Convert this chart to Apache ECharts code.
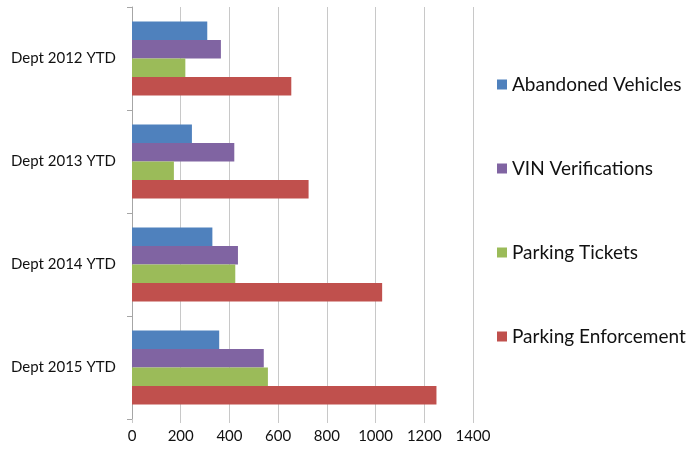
<!DOCTYPE html>
<html>
<head>
<meta charset="utf-8">
<script src="https://cdn.jsdelivr.net/npm/echarts@6/dist/echarts.min.js"></script>
<style>
  html, body { margin: 0; padding: 0; background: #fff; }
  #chart { width: 691px; height: 458px; }
</style>
</head>
<body>
<div id="chart"></div>
<script>
// categories, top to bottom
const categories = ['Dept 2012 YTD', 'Dept 2013 YTD', 'Dept 2014 YTD', 'Dept 2015 YTD'];
const seriesNames = ['Abandoned Vehicles', 'VIN Verifications', 'Parking Tickets', 'Parking Enforcement'];
const abandonedVehicles = [309, 246, 330, 358];
const vinVerifications = [365, 420, 435, 541];
const parkingTickets = [219, 172, 424, 558];
const parkingEnforcement = [654, 725, 1027, 1250];
const xTicks = [0, 200, 400, 600, 800, 1000, 1200, 1400];

const colors = ['#4F81BD', '#8064A2', '#9BBB59', '#C0504D'];
const values = [abandonedVehicles, vinVerifications, parkingTickets, parkingEnforcement];

const chart = echarts.init(document.getElementById('chart'));
const option = {
    animation: false,
    textStyle: { fontFamily: 'Lato' },
    grid: { left: 132, right: 218, top: 7, bottom: 39 },
    legend: {
        orient: 'vertical',
        left: 492,
        top: 70,
        itemWidth: 10,
        itemHeight: 10,
        itemGap: 65,
        icon: 'rect',
        textStyle: { fontSize: 19, color: '#111', fontFamily: 'Lato' },
        data: seriesNames
    },
    xAxis: {
        type: 'value',
        min: xTicks[0],
        max: xTicks[xTicks.length - 1],
        interval: 200,
        axisLine: { show: false },
        axisTick: { show: true, length: 4, lineStyle: { color: '#c8c8c8' } },
        axisLabel: { fontSize: 15, color: '#111', margin: 10, formatter: v => String(v) },
        splitLine: { show: true, lineStyle: { color: '#c8c8c8' } }
    },
    yAxis: {
        type: 'category',
        inverse: true,
        data: categories,
        axisLine: { show: true, lineStyle: { color: '#a6a6a6' } },
        axisTick: { show: true, length: 5, lineStyle: { color: '#a6a6a6' } },
        axisLabel: { fontSize: 15, color: '#111', margin: 16 }
    },
    series: seriesNames.map((name, i) => ({
        name: name,
        type: 'bar',
        data: values[i],
        barGap: '0%',
        barCategoryGap: '28%',
        itemStyle: { color: colors[i] }
    }))
};
chart.setOption(option);
</script>
</body>
</html>
